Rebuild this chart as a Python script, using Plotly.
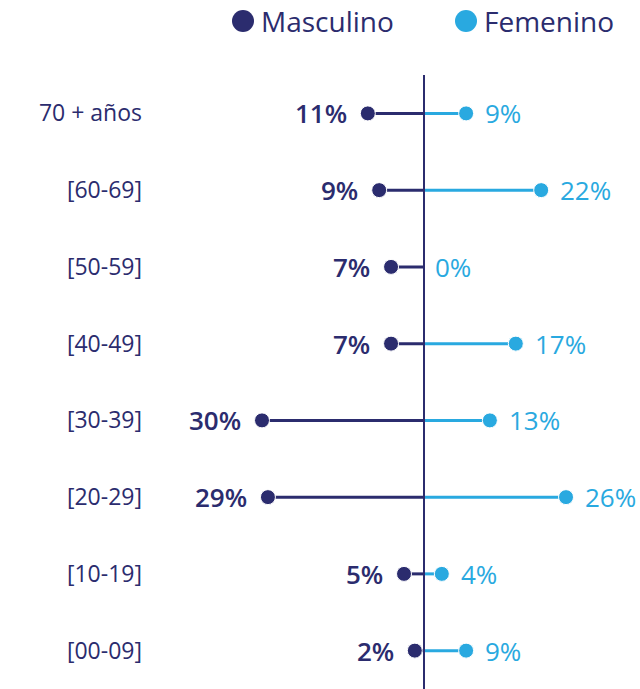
import plotly.graph_objects as go

NAVY = "#2B2C6E"
BLUE = "#29A9E0"
FONT = "Open Sans, sans-serif"

age_groups = ["70 + años", "[60-69]", "[50-59]", "[40-49]", "[30-39]", "[20-29]", "[10-19]", "[00-09]"]
masculino = [10.4, 8.3, 6.1, 6.1, 30.0, 28.9, 3.7, 1.7]
femenino = [7.8, 21.7, 0.0, 17.0, 12.2, 26.3, 3.3, 7.8]
masculino_labels = ["11%", "9%", "7%", "7%", "30%", "29%", "5%", "2%"]
femenino_labels = ["9%", "22%", "0%", "17%", "13%", "26%", "4%", "9%"]

L, T, W, H = 150, 75, 490, 614


def stems(values, sign):
    xs, ys = [], []
    for group, value in zip(age_groups, values):
        xs += [0, sign * value, None]
        ys += [group, group, None]
    return xs, ys


fig = go.Figure()

for values, sign, color in [(masculino, -1, NAVY), (femenino, 1, BLUE)]:
    xs, ys = stems(values, sign)
    fig.add_trace(go.Scatter(x=xs, y=ys, mode="lines", line={"color": color, "width": 3},
                             hoverinfo="skip", showlegend=False))

# a zero value gets no dot, as in the original
fig.add_trace(go.Scatter(x=[-v for v in masculino], y=age_groups, mode="markers", name="Masculino",
                         marker={"color": NAVY, "opacity": 1, "size": [15 if v else 0 for v in masculino]},
                         showlegend=False))
fig.add_trace(go.Scatter(x=femenino, y=age_groups, mode="markers", name="Femenino",
                         marker={"color": BLUE, "opacity": 1, "size": [15 if v else 0 for v in femenino]},
                         showlegend=False))

# percentage labels beside the dots
for group, m, f, ml, fl in zip(age_groups, masculino, femenino, masculino_labels, femenino_labels):
    fig.add_annotation(x=-m, y=group, text=ml, showarrow=False, xanchor="right",
                       xshift=-19 if m else -10,
                       font={"size": 26, "color": NAVY, "family": FONT, "weight": 600})
    fig.add_annotation(x=f, y=group, text=fl, showarrow=False, xanchor="left",
                       xshift=17 if f else 9,
                       font={"size": 26, "color": BLUE, "family": FONT})

fig.add_shape(type="line", x0=0, x1=0, xref="x", y0=0, y1=1, yref="paper",
              line={"color": NAVY, "width": 2}, layer="above")

fig.update_layout(
    width=640,
    height=689,
    margin={"l": L, "r": 0, "t": T, "b": 0, "autoexpand": False},
    paper_bgcolor="white",
    plot_bgcolor="white",
    font={"family": FONT, "color": NAVY},
    xaxis={"range": [-50.74, 40], "visible": False, "fixedrange": True, "automargin": False},
    yaxis={
        "type": "category",
        "categoryorder": "array",
        "categoryarray": age_groups[::-1],
        "range": [-0.5, 7.5],
        "showgrid": False,
        "zeroline": False,
        "automargin": False,
        "fixedrange": True,
        "tickfont": {"size": 23, "color": NAVY, "family": FONT},
        "ticks": "",
        "ticklabelstandoff": 7,
    },
    showlegend=False,
)

# legend drawn by hand above the plot area
legend_y = 1 + (T - 21) / H
for x_px, label, color in [(243, "Masculino", NAVY), (466, "Femenino", BLUE)]:
    fig.add_shape(type="circle", xref="paper", yref="paper", xsizemode="pixel", ysizemode="pixel",
                  xanchor=(x_px - L) / W, yanchor=legend_y, x0=-11, x1=11, y0=-11, y1=11,
                  line={"width": 0}, fillcolor=color)
    fig.add_annotation(x=(x_px + 16 - L) / W, y=legend_y, xref="paper", yref="paper",
                       text=label, showarrow=False, xanchor="left", yanchor="middle",
                       font={"size": 28, "color": NAVY, "family": FONT})

fig.write_html("out.html", config={"displayModeBar": False},
               post_script="document.body.style.margin = '0';")
